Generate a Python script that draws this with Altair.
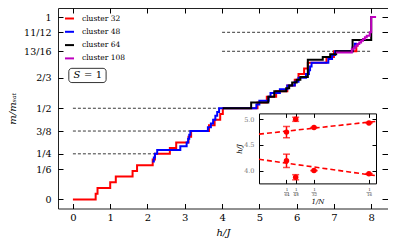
import altair as alt
import pandas as pd

# ---------------- main magnetisation curves (step start h/J, level numerator k, m = k/N)
red_h = [0, 0.61, 0.66, 1.0, 1.15, 1.6, 1.72, 2.14, 2.2, 2.6, 2.77, 3.1, 3.17, 3.65, 3.8,
         3.95, 4.02, 4.95, 5.2, 5.45, 5.75, 5.95, 6.05, 6.2, 6.3, 6.8, 7.0, 7.6, 7.66]
red_k = [0, 1, 2, 3, 4, 5, 6, 7, 8, 9, 10, 11, 12, 13, 14,
         15, 16, 17, 18, 19, 20, 21, 22, 23, 24, 25, 26, 27, 27]

blue_h = [2.13, 2.17, 2.2, 2.26, 2.88, 3.05, 3.09, 3.12, 3.15, 3.62, 3.7, 3.76, 3.82, 3.87,
          3.92, 4.92, 5.0, 5.25, 5.3, 5.55, 5.75, 5.95, 6.05, 6.25, 6.33, 6.36, 6.4, 6.85,
          6.95, 7.03, 7.5, 7.56, 7.62]
blue_k = [10, 11, 12, 13, 14, 15, 16, 17, 18, 19, 20, 21, 22, 23,
          24, 25, 26, 27, 28, 29, 30, 31, 32, 33, 34, 35, 36, 37,
          38, 39, 40, 41, 41]

black_h = [4.02, 4.78, 5.24, 5.4, 5.72, 5.8, 5.88, 6.0, 6.1, 6.3, 6.7, 6.9, 7.06, 7.5, 8.0, 8.02]
black_k = [32, 34, 36, 38, 39, 40, 41, 42, 43, 49, 50, 51, 52, 56, 64, 64]

mag_h = [7.05, 7.48, 7.53, 7.58, 7.63, 7.68, 7.73, 7.78, 7.83, 7.88, 7.96, 8.0, 8.13]
mag_k = [87, 89, 90, 91, 92, 93, 94, 95, 96, 97, 99, 108, 108]

cluster_names = ["cluster 32", "cluster 48", "cluster 64", "cluster 108"]
cluster_sizes = [32, 48, 64, 108]
cluster_colors = ["#ff0000", "#0000ff", "#000000", "#c000c0"]

# dashed reference plateaus
ref_m = [1 / 4, 3 / 8, 1 / 2, 13 / 16, 11 / 12]
ref_h0 = [0, 0, 0, 4.0, 4.0]
ref_h1 = [2.18, 3.19, 3.95, 8.0, 8.0]

# axis ticks
x_ticks = [0, 1, 2, 3, 4, 5, 6, 7, 8]
y_ticks = [0, 1 / 6, 1 / 4, 3 / 8, 1 / 2, 2 / 3, 13 / 16, 11 / 12, 1]

# "S = 1" annotation box
box_h = [-0.11, 0.89]
box_m = [0.641, 0.719]

# ---------------- inset: critical fields vs 1/N
inv_N = [1 / 64, 1 / 48, 1 / 32, 1 / 16]
up_val = [4.75, 5.00, 4.84, 4.93]
up_err = [0.11, 0.04, 0.0, 0.0]
lo_val = [4.19, 3.87, 4.00, 3.94]
lo_err = [0.13, 0.05, 0.0, 0.0]
fit_x = [0, 0.0665]
fit_up = [4.71, 4.96]
fit_lo = [4.22, 3.90]
inset_y_ticks = [4.0, 4.5, 5.0]

# ---------------- geometry
W = 330
H = 200.5
IX0, IX1 = 201, 318       # inset x pixel range inside plot
IY0, IY1 = 175.4, 105.4   # inset y pixel range (bottom, top)
FONT = "DejaVu Serif"

rows = []
for name, N, hs, ks in zip(cluster_names, cluster_sizes,
                           [red_h, blue_h, black_h, mag_h],
                           [red_k, blue_k, black_k, mag_k]):
    for i, (h, k) in enumerate(zip(hs, ks)):
        rows.append({"cluster": name, "h": h, "m": k / N, "i": i})
curves = pd.DataFrame(rows)

refs = pd.DataFrame({"m": ref_m, "h0": ref_h0, "h1": ref_h1})
box = pd.DataFrame({"h0": [box_h[0]], "h1": [box_h[1]], "m0": [box_m[0]], "m1": [box_m[1]]})
labels_S = pd.DataFrame({"h": [0.107], "m": [0.68], "t": ["S"]})
labels_eq = pd.DataFrame({"h": [0.54], "m": [0.68], "t": ["= 1"]})

pts = pd.DataFrame({
    "x": inv_N * 2,
    "y": up_val + lo_val,
    "err": up_err + lo_err,
})
pts["lo"] = pts["y"] - pts["err"]
pts["hi"] = pts["y"] + pts["err"]
fits = pd.DataFrame({
    "x": fit_x * 2,
    "y": fit_up + fit_lo,
    "g": ["up", "up", "lo", "lo"],
})
inv_df = pd.DataFrame({"x": inv_N})

xs_main = alt.Scale(domain=[-0.4, 8.45], nice=False, zero=False)
ys_main = alt.Scale(domain=[-0.05, 1.05], nice=False, zero=False)
xs_in = alt.Scale(domain=[0, 0.0665], range=[IX0, IX1], nice=False, zero=False)
ys_in = alt.Scale(domain=[3.75, 5.115], range=[IY0, IY1], nice=False, zero=False)

y_label_expr = ("datum.value < 0.01 ? '0' : datum.value < 0.2 ? '1/6' : datum.value < 0.3 ? '1/4' : "
                "datum.value < 0.4 ? '3/8' : datum.value < 0.6 ? '1/2' : datum.value < 0.7 ? '2/3' : "
                "datum.value < 0.85 ? '13/16' : datum.value < 0.95 ? '11/12' : '1'")

main_x_axis = alt.Axis(orient="bottom", values=x_ticks, format="d", ticks=False, domain=False,
                       labelPadding=4, labelFontSize=10, title="h/J", titleFontStyle="italic",
                       titleFontSize=10, titleY=23.5, titleBaseline="middle")
main_y_axis = alt.Axis(orient="left", values=y_ticks, labelExpr=y_label_expr, ticks=False,
                       domain=False, labelPadding=7, labelFontSize=9.5, title="m/mₛₐₜ",
                       titleFontStyle="italic", titleFontSize=10, titleX=-46,
                       titleBaseline="middle")


def MX(field):
    return alt.X(field, type="quantitative", scale=xs_main, axis=main_x_axis)


def MY(field):
    return alt.Y(field, type="quantitative", scale=ys_main, axis=main_y_axis)


color_enc = alt.Color(
    "cluster:N",
    scale=alt.Scale(domain=cluster_names, range=cluster_colors),
    legend=alt.Legend(orient="none", legendX=6, legendY=5, title=None, symbolType="stroke",
                      symbolStrokeWidth=2, symbolSize=81, labelFont=FONT, labelFontSize=7.5,
                      labelOffset=7, rowPadding=3.3, padding=0),
)

dashed = alt.Chart(refs).mark_rule(color="#222", strokeWidth=0.9, strokeDash=[3, 2]).encode(
    x=MX("h0"), x2="h1", y=MY("m"))

line_layers = []
for name in cluster_names:
    line_layers.append(
        alt.Chart(curves[curves["cluster"] == name]).mark_line(
            interpolate="step-after", strokeWidth=2).encode(
            x=MX("h"), y=MY("m"), color=color_enc, order="i:Q")
    )

box_rect = alt.Chart(box).mark_rect(fill="white", stroke="black", strokeWidth=0.8,
                                    cornerRadius=3).encode(
    x=MX("h0"), x2="h1", y=MY("m0"), y2="m1")
box_S = alt.Chart(labels_S).mark_text(font=FONT, fontSize=10, fontStyle="italic").encode(
    x=MX("h"), y=MY("m"), text="t:N")
box_eq = alt.Chart(labels_eq).mark_text(font=FONT, fontSize=10).encode(
    x=MX("h"), y=MY("m"), text="t:N")

main = alt.layer(dashed, *line_layers, box_rect, box_S, box_eq)

# mirror layers for inward ticks of the main frame
mirrorA = alt.Chart(refs).mark_point(opacity=0).encode(
    x=alt.X("h0:Q", scale=xs_main,
            axis=alt.Axis(orient="top", offset=-H, values=x_ticks, labels=False, domain=False,
                          tickSize=5, title=None)),
    y=alt.Y("m:Q", scale=ys_main,
            axis=alt.Axis(orient="right", offset=-W, values=y_ticks, labels=False, domain=False,
                          tickSize=5, title=None)),
)
mirrorB = alt.Chart(refs).mark_point(opacity=0).encode(
    x=alt.X("h0:Q", scale=xs_main,
            axis=alt.Axis(orient="bottom", offset=-H, values=x_ticks, labels=False, domain=False,
                          tickSize=5, title=None)),
    y=alt.Y("m:Q", scale=ys_main,
            axis=alt.Axis(orient="left", offset=-W, values=y_ticks, labels=False, domain=False,
                          tickSize=6, title=None)),
)

# inset
inv_label_expr = ("datum.value < 0.017 ? ['1','64'] : datum.value < 0.025 ? ['1','48'] : "
                  "datum.value < 0.04 ? ['1','32'] : ['1','16']")
in_x_axis = alt.Axis(orient="bottom", offset=-(H - IY0), values=inv_N, labelExpr=inv_label_expr,
                     ticks=False, domain=True, labelFontSize=4, labelLineHeight=4.4,
                     labelPadding=4.5, labelColor="#333", title="1/N", titleFontSize=7,
                     titleFontStyle="italic", titleY=17.7, titleBaseline="middle")
in_y_axis = alt.Axis(orient="left", offset=-IX0, values=inset_y_ticks, format=".1f",
                     ticks=False, domain=True, labelFontSize=6.5, labelColor="#777",
                     labelPadding=5, title="h/J", titleFontSize=7, titleFontStyle="italic",
                     titleX=-20, titleBaseline="middle")


def IX(field):
    return alt.X(field, type="quantitative", scale=xs_in, axis=in_x_axis)


def IY(field):
    return alt.Y(field, type="quantitative", scale=ys_in, axis=in_y_axis)


fit_lines = alt.Chart(fits).mark_line(color="#ff0000", strokeWidth=1.6, strokeDash=[5, 3],
                                      clip=True).encode(
    x=IX("x"), y=IY("y"), detail="g:N")
err_rules = alt.Chart(pts).mark_rule(color="#ff0000", strokeWidth=1.5).encode(
    x=IX("x"), y=IY("lo"), y2="hi")
cap_lo = alt.Chart(pts).mark_tick(color="#ff0000", orient="horizontal", size=7,
                                  thickness=1.5).encode(x=IX("x"), y=IY("lo"))
cap_hi = alt.Chart(pts).mark_tick(color="#ff0000", orient="horizontal", size=7,
                                  thickness=1.5).encode(x=IX("x"), y=IY("hi"))
dots = alt.Chart(pts).mark_circle(color="#ff0000", size=30, opacity=1).encode(
    x=IX("x"), y=IY("y"))
frac_bars = alt.Chart(inv_df).mark_tick(color="#333", orient="horizontal", size=5,
                                        thickness=0.6).encode(
    x=IX("x"), y=alt.value(IY0 + 8.9))

inset = alt.layer(fit_lines, err_rules, cap_lo, cap_hi, dots, frac_bars)

inset_mirrorA = alt.Chart(pts).mark_point(opacity=0).encode(
    x=alt.X("x:Q", scale=xs_in,
            axis=alt.Axis(orient="top", offset=-IY0, values=inv_N, labels=False, domain=False,
                          tickSize=4, title=None)),
    y=alt.Y("y:Q", scale=ys_in,
            axis=alt.Axis(orient="right", offset=-(W - IX0), values=inset_y_ticks, labels=False,
                          domain=False, tickSize=4, title=None)),
)
inset_mirrorB = alt.Chart(pts).mark_point(opacity=0).encode(
    x=alt.X("x:Q", scale=xs_in,
            axis=alt.Axis(orient="bottom", offset=-(H - IY1), values=inv_N, labels=False,
                          domain=True, tickSize=4, title=None)),
    y=alt.Y("y:Q", scale=ys_in,
            axis=alt.Axis(orient="left", offset=-IX1, values=inset_y_ticks, labels=False,
                          domain=True, tickSize=4, title=None)),
)

chart = alt.layer(main, mirrorA, mirrorB, inset, inset_mirrorA, inset_mirrorB).resolve_scale(
    x="independent", y="independent", color="independent"
).properties(
    width=W, height=H,
    autosize=alt.AutoSizeParams(type="none"),
    padding={"left": 50, "top": 0, "right": 0, "bottom": 29.5},
).configure_view(
    stroke="#222", strokeWidth=1
).configure_axis(
    grid=False, labelFont=FONT, titleFont=FONT, labelColor="black", titleColor="black",
    tickColor="black", domainColor="black", titleFontWeight="normal", tickWidth=1,
    domainWidth=1
)

chart.save("out.html", embed_options={"renderer": "svg", "actions": False})
